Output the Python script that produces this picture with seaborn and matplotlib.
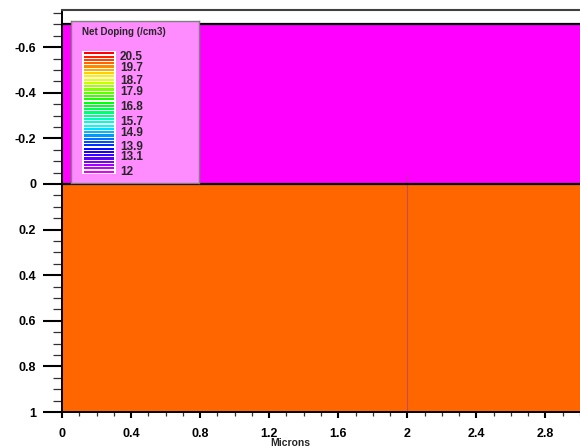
import numpy as np
import seaborn as sns
import matplotlib
matplotlib.use("Agg")
import matplotlib.pyplot as plt
from matplotlib.ticker import MultipleLocator

# Regions of the structure (microns, depth positive downward)
region_names = ['Oxide', 'Silicon']
region_top = [-0.70, 0.0]
region_bottom = [0.0, 1.0]
region_colors = ['#ff00ff', '#ff6600']
x_extent = [0.0, 3.0]

# mesh line seen in the silicon
mesh_x = [2.0]
mesh_y = [-0.04, 1.0]

# Net doping legend (log10 /cm3)
legend_labels = [20.5, 19.7, 18.7, 17.9, 16.8, 15.7, 14.9, 13.9, 13.1, 12]
legend_min, legend_max = 11.95, 20.8
n_stripes = 37

x_ticks = [0, 0.4, 0.8, 1.2, 1.6, 2, 2.4, 2.8]
x_ticklabels = ['0', '0.4', '0.8', '1.2', '1.6', '2', '2.4', '2.8']
y_ticks = [-0.6, -0.4, -0.2, 0, 0.2, 0.4, 0.6, 0.8, 1]
y_ticklabels = ['-0.6', '-0.4', '-0.2', '0', '0.2', '0.4', '0.6', '0.8', '1']

sns.set_style("ticks")
plt.rcParams['font.family'] = ['Liberation Sans', 'DejaVu Sans']
plt.rcParams['font.weight'] = 'bold'

W, H = 580, 448
fig = plt.figure(figsize=(W / 100, H / 100), dpi=100)
ax = fig.add_axes([62 / W, 1 - 412 / H, 518 / W, (412 - 9.5) / H])
ax.set_facecolor('white')

for top, bot, col in zip(region_top, region_bottom, region_colors):
    ax.fill_between(x_extent, top, bot, color=col, lw=0, zorder=1)
for y in region_top:
    ax.axhline(y, color='black', lw=1.6, zorder=3)

for x in mesh_x:
    ax.plot([x, x], mesh_y, color='#b0407a', lw=0.8, alpha=0.7, zorder=2)

ax.set_xlim(x_extent)
ax.set_ylim(1.0, -0.765)

ax.set_xticks(x_ticks)
ax.set_xticklabels(x_ticklabels)
ax.set_yticks(y_ticks)
ax.set_yticklabels(y_ticklabels)
ax.xaxis.set_minor_locator(MultipleLocator(0.1))
ax.yaxis.set_minor_locator(MultipleLocator(0.05))

ax.tick_params(axis='y', which='major', length=13.7, width=1.5, pad=5,
               labelsize=9, color='black', labelcolor='black')
ax.tick_params(axis='y', which='minor', left=True, length=6.5, width=0.9, color='#303030')
ax.tick_params(axis='x', which='major', length=4.3, width=1.5, pad=7,
               labelsize=9, color='black', labelcolor='black')
ax.tick_params(axis='x', which='minor', bottom=True, length=2.6, width=0.9, color='#303030')
for lab in ax.get_xticklabels() + ax.get_yticklabels():
    lab.set_fontweight('bold')

for side in ['left', 'bottom']:
    ax.spines[side].set_color('black')
    ax.spines[side].set_linewidth(1.4)
ax.spines['top'].set_visible(True)
ax.spines['top'].set_color('#404040')
ax.spines['top'].set_linewidth(1.5)
ax.spines['right'].set_visible(False)

ax.set_xlabel('Microns', fontsize=7.5, fontweight='bold')
ax.xaxis.set_label_coords((290 - 62) / 518, -(443 - 412) / 402.5, transform=ax.transAxes)
ax.xaxis.label.set_va('center')

# legend box
leg = fig.add_axes([71 / W, 1 - 183 / H, 128 / W, 162 / H])
leg.set_facecolor('#ff8cff')
leg.set_xticks([])
leg.set_yticks([])
for s in leg.spines.values():
    s.set_color('#808080')
    s.set_linewidth(1.0)
leg.text((82 - 71) / 128, 1 - (32 - 21) / 162, 'Net Doping (/cm3)', fontsize=7,
         fontweight='bold', va='center', ha='left', transform=leg.transAxes)

# colour stripes
cb = fig.add_axes([82 / W, 1 - 174 / H, 34 / W, 123 / H])
cb.set_facecolor('white')
levels = np.linspace(legend_max, legend_min, n_stripes)
stripe_pos = (levels - legend_min) / (legend_max - legend_min)
cmap = plt.get_cmap('hsv')
stripe_cols = [cmap((legend_max - v) / (legend_max - legend_min) * 0.83) for v in levels]
step = 1.0 / (n_stripes - 1)
cb.barh(stripe_pos, 0.88, left=0.06, height=step * 0.66, color=stripe_cols, lw=0)
cb.set_xlim(0, 1)
cb.set_ylim(-step * 0.7, 1 + step * 0.7)
cb.set_xticks([])
cb.set_yticks([])
for s in cb.spines.values():
    s.set_visible(False)

# labels, placed by value on the legend scale
for v in legend_labels:
    frac = (v - legend_min) / (legend_max - legend_min)
    ypix = 173 - frac * (173 - 53)
    fig.text(120 / W, 1 - ypix / H, f'{v:g}', fontsize=8.5, fontweight='bold',
             va='center', ha='left')

fig.savefig('out.png', dpi=100)
